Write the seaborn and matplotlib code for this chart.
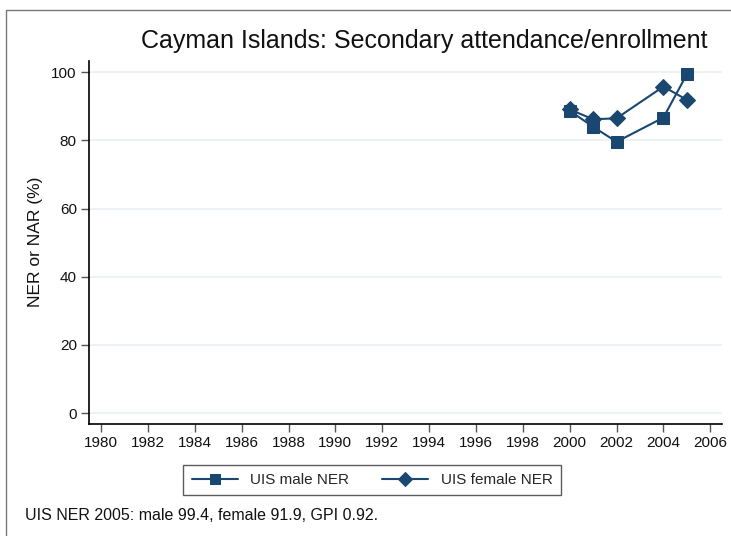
import pandas as pd
import matplotlib.pyplot as plt
import seaborn as sns
from matplotlib.patches import Rectangle

# values
years = [2000, 2001, 2002, 2004, 2005]
male_ner = [88.7, 84.0, 79.6, 86.7, 99.4]
female_ner = [89.1, 86.2, 86.5, 95.8, 91.9]
x_ticks = list(range(1980, 2007, 2))
y_ticks = [0, 20, 40, 60, 80, 100]

sns.set_style('white')
plt.rcParams['font.family'] = ['Liberation Sans', 'DejaVu Sans']

navy = '#1a476f'

fig = plt.figure(figsize=(7.31, 5.36), dpi=100)
ax = fig.add_axes([0.1222, 0.2095, 0.8655, 0.6773])

sns.lineplot(x=years, y=male_ner, ax=ax, color=navy, marker='s', markersize=8,
             markeredgecolor=navy, linewidth=1.5, label='UIS male NER')
sns.lineplot(x=years, y=female_ner, ax=ax, color=navy, marker='D', markersize=8,
             markeredgecolor=navy, linewidth=1.5, label='UIS female NER')

ax.set_xlim(1979.5, 2006.5)
ax.set_ylim(-3.1, 103.4)
ax.set_xticks(x_ticks)
ax.set_yticks(y_ticks)
ax.tick_params(axis='both', direction='out', length=6, width=1, color='#555555',
               labelsize=11, pad=3, left=True, bottom=True, labelcolor='#111111')
ax.grid(axis='y', color='#eaf0f3', linewidth=1.2)
ax.grid(axis='x', visible=False)
for s in ['top', 'right']:
    ax.spines[s].set_visible(False)
for s in ['left', 'bottom']:
    ax.spines[s].set_color('black')
    ax.spines[s].set_linewidth(1.2)

ax.set_ylabel('NER or NAR (%)', fontsize=12.5, labelpad=6, color='#111111')
ax.set_xlabel('')
fig.text(424 / 731, 1 - 41 / 536, 'Cayman Islands: Secondary attendance/enrollment',
         fontsize=18, ha='center', va='center', color='#111111')

ax.legend_.remove()
handles, labels = ax.get_legend_handles_labels()
leg = fig.legend(handles, labels, loc='center', bbox_to_anchor=(0.509, 0.1045), ncol=2,
                 fontsize=11, frameon=True, fancybox=False, edgecolor='#333333',
                 handlelength=3, columnspacing=2.2, borderpad=0.55, markerscale=0.85)
leg.get_frame().set_linewidth(1)

fig.text(25 / 731, 1 - 515 / 536, 'UIS NER 2005: male 99.4, female 91.9, GPI 0.92.',
         fontsize=11.5, va='center', ha='left', color='#111111')

# outer frame around the graph region
fig.patches.append(Rectangle((6 / 731, -0.1), 1.2, 1 - 10 / 536 + 0.1, transform=fig.transFigure,
                             fill=False, edgecolor='#777777', linewidth=1))

fig.savefig('out.png', dpi=100)
